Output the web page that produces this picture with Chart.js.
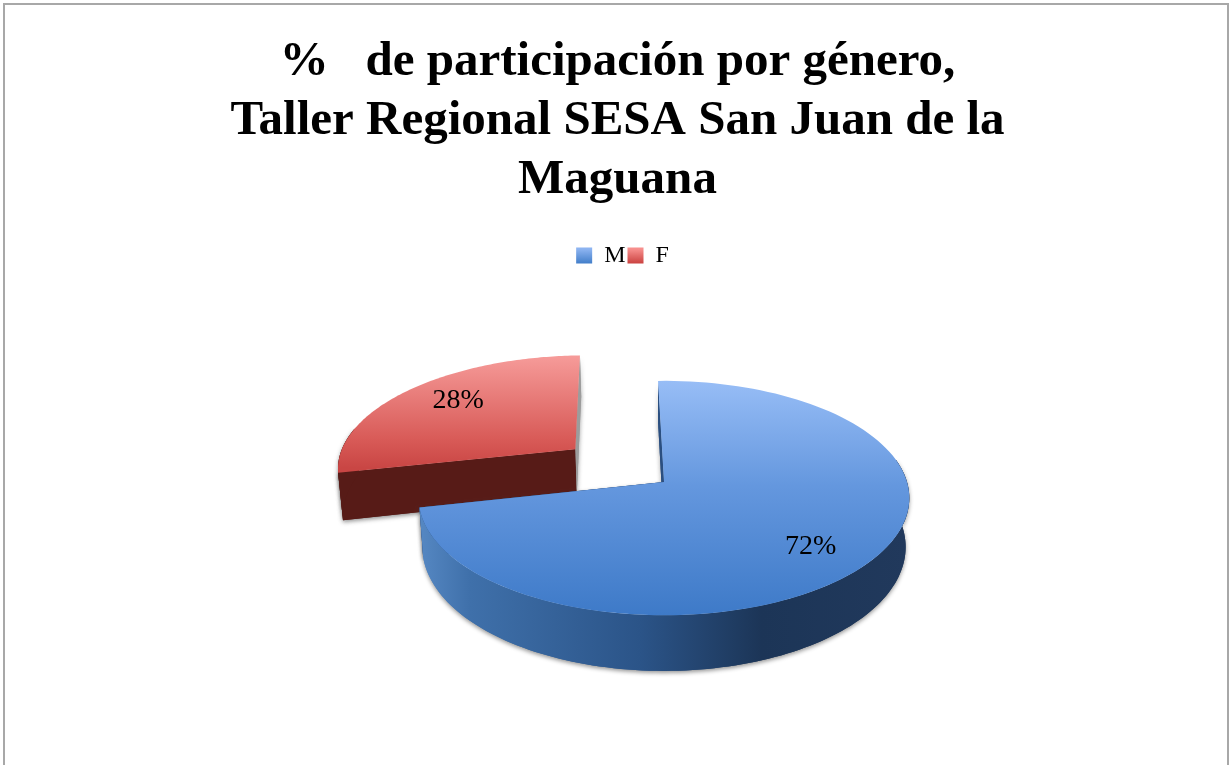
<!DOCTYPE html>
<html>
<head>
<meta charset="utf-8">
<style>
  html, body { margin: 0; padding: 0; background: #fff; overflow: hidden; }
  canvas { display: block; }
</style>
<script src="https://cdn.jsdelivr.net/npm/chart.js@4"></script>
</head>
<body>
<canvas id="chart" width="1230" height="765"></canvas>
<script>
var titleLines = ["%   de participación por género,", "Taller Regional SESA San Juan de la", "Maguana"];
var categories = ["M", "F"];
var shares = [72, 28];
var legendStops = [["#8db4f1", "#3f7cc8"], ["#f78f8d", "#c93f3d"]];
var serif = "'Liberation Serif', serif";

// pie is flattened by a small perspective projection, arcs still come from Chart.js
var view = {
  x: 664, y: 482, ry: 115, k: 0.137, depth: 48, taper: 0.015,
  labelRadius: [0.72, 0.7], labelShift: [10, -5], legendShift: 5
};

function project(u, v, z) {
  var d = 1 - view.k * v;
  var s = (1 - view.taper * z) / d;
  return { x: u * s, y: (view.ry * v + view.depth * z) / d };
}

function slicePoint(arc, angle, r, z) {
  var mid = (arc.startAngle + arc.endAngle) / 2;
  var off = (arc.options.offset || 0) / arc.outerRadius;
  var u = off * Math.cos(mid) + r * Math.cos(angle);
  var v = off * Math.sin(mid) + r * Math.sin(angle);
  var p = project(u, v, z);
  return { x: view.x + p.x * arc.outerRadius, y: view.y + p.y };
}

function arcPath(ctx, arc, from, to, z, reverse) {
  var steps = 120;
  for (var i = 0; i <= steps; i++) {
    var t = reverse ? 1 - i / steps : i / steps;
    var p = slicePoint(arc, from + (to - from) * t, 1, z);
    ctx.lineTo(p.x, p.y);
  }
}

function gradient(ctx, x0, y0, x1, y1, stops) {
  var g = ctx.createLinearGradient(x0, y0, x1, y1);
  stops.forEach(function (s) { g.addColorStop(s[0], s[1]); });
  return g;
}

function drawSlice(ctx, arc, topFill, wallFill, faceFills) {
  var a0 = arc.startAngle, a1 = arc.endAngle;
  var c0 = slicePoint(arc, 0, 0, 0), c1 = slicePoint(arc, 0, 0, 1);
  var s0 = slicePoint(arc, a0, 1, 0), s1 = slicePoint(arc, a0, 1, 1);
  var e0 = slicePoint(arc, a1, 1, 0), e1 = slicePoint(arc, a1, 1, 1);
  // only the front of the outer wall can be seen
  var w0 = Math.max(a0, -0.2), w1 = Math.min(a1, Math.PI + 0.2);

  function walls() {
    [[s0, s1], [e0, e1]].forEach(function (edge, i) {
      ctx.fillStyle = faceFills[i];
      ctx.beginPath();
      ctx.moveTo(c0.x, c0.y);
      ctx.lineTo(edge[0].x, edge[0].y);
      ctx.lineTo(edge[1].x, edge[1].y);
      ctx.lineTo(c1.x, c1.y);
      ctx.closePath();
      ctx.fill();
    });
    ctx.fillStyle = wallFill;
    ctx.beginPath();
    arcPath(ctx, arc, w0, w1, 0, false);
    arcPath(ctx, arc, w0, w1, 1, true);
    ctx.closePath();
    ctx.fill();
  }

  // shadow pass first, then again clean so the shadow does not mark the walls
  ctx.save();
  ctx.shadowColor = "rgba(60,60,60,0.55)";
  ctx.shadowBlur = 4;
  ctx.shadowOffsetY = 2;
  walls();
  ctx.restore();
  walls();

  // top face
  ctx.fillStyle = topFill;
  ctx.beginPath();
  ctx.moveTo(c0.x, c0.y);
  arcPath(ctx, arc, a0, a1, 0, false);
  ctx.closePath();
  ctx.fill();
}

var pie3d = {
  id: "pie3d",
  beforeDraw: function (chart) {
    var ctx = chart.ctx;
    ctx.save();
    ctx.fillStyle = "#fff";
    ctx.fillRect(0, 0, chart.width, chart.height);
    ctx.fillStyle = "#a8a8a8";
    ctx.fillRect(3, 3, 1226, 2);
    ctx.fillRect(3, 3, 2, chart.height);
    ctx.fillRect(1227, 3, 2, chart.height);
    ctx.restore();
  },
  afterLayout: function (chart) {
    chart.legend.left += view.legendShift;
    chart.legend.right += view.legendShift;
  },
  beforeDatasetsDraw: function (chart) {
    var ctx = chart.ctx;
    var arcs = chart.getDatasetMeta(0).data;
    var m = arcs[0], f = arcs[1];

    drawSlice(ctx, f,
      gradient(ctx, 0, 356, 0, 468, [[0, "#f69b99"], [0.75, "#d85a57"], [1, "#c94644"]]),
      "#571b17", ["#571b17", "#9c9c9c"]);

    drawSlice(ctx, m,
      gradient(ctx, 0, 381, 0, 615, [[0, "#97bdf6"], [0.45, "#6497de"], [1, "#3e7ac8"]]),
      gradient(ctx, 421, 0, 908, 0, [[0, "#5587c2"], [0.1, "#3f70aa"], [0.45, "#2b5488"], [0.7, "#1c3557"], [1, "#21395c"]]),
      ["#2b4f80", "#2b4f80"]);

    ctx.save();
    ctx.font = "28px " + serif;
    ctx.fillStyle = "#000";
    ctx.textAlign = "center";
    ctx.textBaseline = "middle";
    arcs.forEach(function (arc, i) {
      var mid = (arc.startAngle + arc.endAngle) / 2;
      var p = slicePoint(arc, mid, view.labelRadius[i], 0);
      ctx.fillText(shares[i] + "%", p.x, p.y + view.labelShift[i]);
    });
    ctx.restore();
    return false;
  }
};

new Chart(document.getElementById("chart"), {
  type: "pie",
  data: {
    labels: categories,
    datasets: [{
      data: shares,
      backgroundColor: legendStops.map(function (s) { return s[1]; }),
      borderWidth: 0,
      offset: [0, 117],
      radius: 243
    }]
  },
  options: {
    responsive: false,
    animation: false,
    events: [],
    rotation: -1.6,
    layout: { padding: { top: 33, left: 5 } },
    plugins: {
      tooltip: { enabled: false },
      title: {
        display: true,
        text: titleLines,
        color: "#000",
        font: { family: serif, weight: "bold", size: 49, lineHeight: 1.2 },
        padding: { top: 0, bottom: 32 }
      },
      legend: {
        position: "top",
        labels: {
          color: "#000",
          font: { family: serif, size: 24 },
          boxWidth: 16,
          boxHeight: 16,
          padding: 2,
          generateLabels: function (chart) {
            var items = Chart.overrides.pie.plugins.legend.labels.generateLabels(chart);
            items.forEach(function (item, i) {
              item.fillStyle = gradient(chart.ctx, 0, 249, 0, 264, [[0, legendStops[i][0]], [1, legendStops[i][1]]]);
            });
            return items;
          }
        }
      }
    }
  },
  plugins: [pie3d]
});
</script>
</body>
</html>
